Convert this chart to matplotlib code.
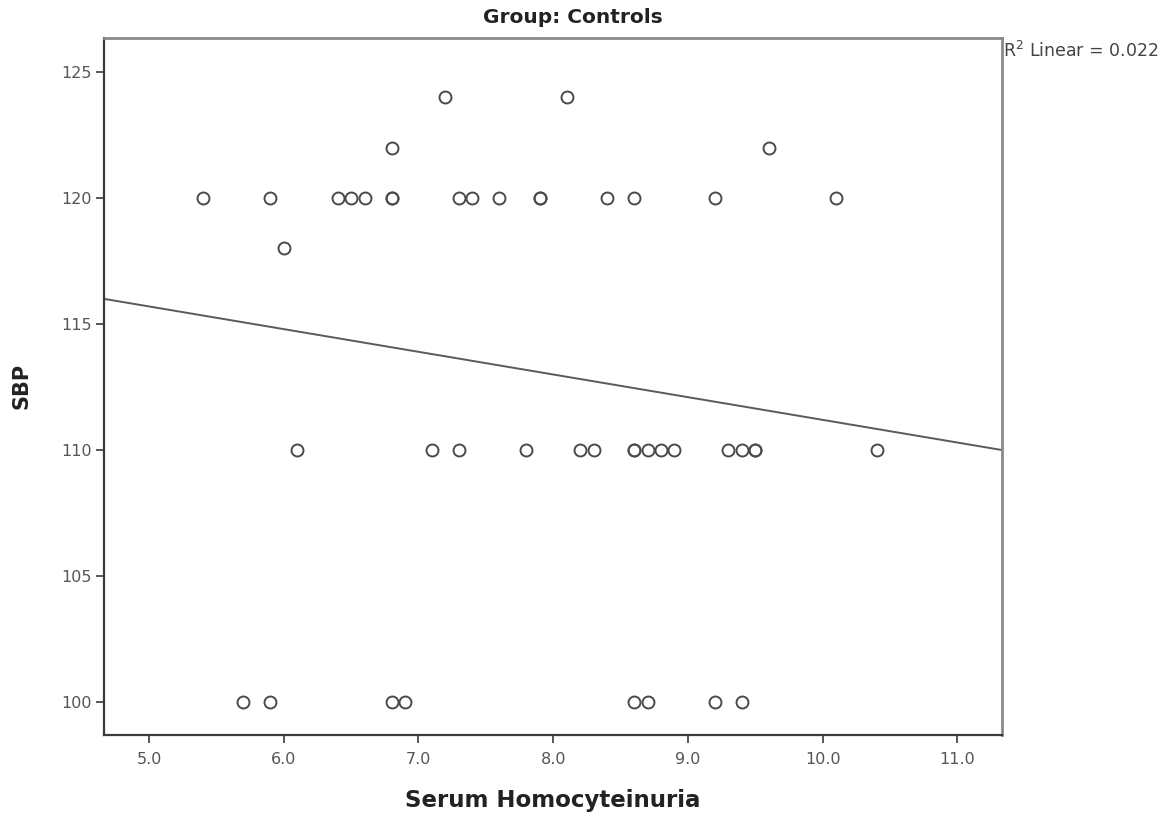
import matplotlib.pyplot as plt
import numpy as np

# Serum homocysteine vs systolic BP, control group
hcy_120 = [5.4, 5.9, 6.4, 6.5, 6.6, 6.8, 6.8, 7.3, 7.4, 7.6, 7.9, 7.9, 8.4, 8.6, 9.2, 10.1]
hcy_124 = [7.2, 8.1]
hcy_122 = [6.8, 9.6]
hcy_118 = [6.0]
hcy_110 = [6.1, 7.1, 7.3, 7.8, 8.2, 8.3, 8.6, 8.6, 8.7, 8.8, 8.9, 9.3, 9.4, 9.5, 9.5, 10.4]
hcy_100 = [5.7, 5.9, 6.8, 6.9, 8.6, 8.7, 9.2, 9.4]

groups = [(120, hcy_120), (124, hcy_124), (122, hcy_122),
          (118, hcy_118), (110, hcy_110), (100, hcy_100)]
x = np.array([v for _, xs in groups for v in xs])
y = np.array([sbp for sbp, xs in groups for _ in xs], dtype=float)

slope, intercept = np.polyfit(x, y, 1)
r2 = np.corrcoef(x, y)[0, 1] ** 2

fig = plt.figure(figsize=(11.72, 8.16), dpi=100)
ax = fig.add_axes([0.0887, 0.0993, 0.7662, 0.8545])

ax.plot(x, y, 'o', markersize=8.6, markerfacecolor='none',
        markeredgecolor='#4a4a4a', markeredgewidth=1.4, zorder=3)

xlim = (4.666, 11.33)
xx = np.array(xlim)
ax.plot(xx, slope * xx + intercept, color='#5a5a5a', linewidth=1.4, zorder=2)

ax.set_xlim(*xlim)
ax.set_ylim(98.69, 126.36)
ax.set_xticks(np.arange(5, 11.5, 1.0))
ax.set_xticklabels([f'{v:.1f}' for v in np.arange(5, 11.5, 1.0)])
ax.set_yticks([100, 105, 110, 115, 120, 125])

for side in ['left', 'bottom']:
    ax.spines[side].set_color('#3a3a3a')
    ax.spines[side].set_linewidth(1.6)
for side in ['top', 'right']:
    ax.spines[side].set_color('#8a8a8a')
    ax.spines[side].set_linewidth(2.0)

ax.tick_params(axis='both', direction='out', length=6, width=1.2,
               color='#3a3a3a', labelcolor='#555555', labelsize=11.5)
ax.tick_params(axis='x', pad=6)
ax.tick_params(axis='y', pad=3)

fig.text(0.489, 0.978, 'Group: Controls', ha='center', va='center',
         fontsize=14.5, fontweight='bold', color='#222222')
ax.set_xlabel('Serum Homocyteinuria', fontsize=16.5, fontweight='bold',
              color='#222222', labelpad=16)
ax.set_ylabel('SBP', fontsize=15, fontweight='bold', color='#222222', labelpad=21)

fig.text(0.856, 0.938, f'R$^2$ Linear = {r2:.3f}', ha='left', va='center',
         fontsize=12.5, color='#444444')

fig.savefig('out.png', dpi=100, facecolor='white')
